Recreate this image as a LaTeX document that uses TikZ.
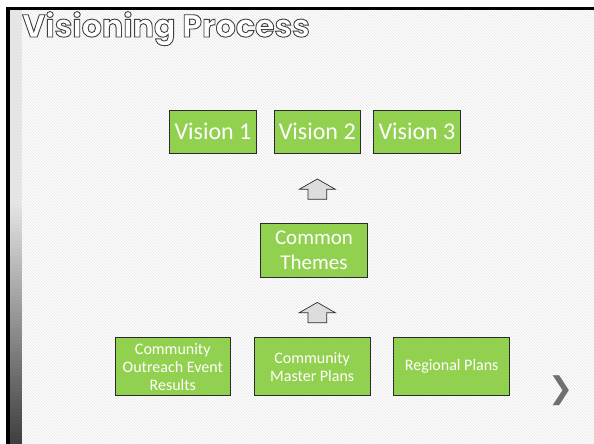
\documentclass[tikz,border=0pt]{standalone}
\usepackage{fontspec}
\setmainfont{Carlito}
\newfontfamily\titlefont{Poppins}
\newfontfamily\symfont{DejaVu Sans}
\usetikzlibrary{patterns}
\definecolor{boxgreen}{HTML}{92D050}
\definecolor{boxedge}{HTML}{2B2B2B}
\definecolor{arrowfill}{HTML}{DDDDDD}
\definecolor{chev}{HTML}{707070}
\begin{document}
\begin{tikzpicture}[x=1pt,y=-1pt,
  box/.style={draw=boxedge, line width=0.9pt, fill=boxgreen, text=white, inner sep=0pt, align=center},
  bigbox/.style={box, font=\fontsize{24}{28}\selectfont, minimum height=43.3pt},
  midbox/.style={box, font=\fontsize{21}{25}\selectfont, minimum height=54pt, minimum width=106.7pt},
  smallbox/.style={box, font=\fontsize{16}{18}\selectfont, minimum height=58pt, minimum width=115.7pt},
  blockarrow/.style={draw=boxedge, line width=0.7pt, fill=arrowfill, line join=miter},
  pics/uparrow/.style={code={
    \draw[blockarrow] (-18,0) -- (0,-10.3) -- (18,0) -- (9.35,0) -- (9.35,10) -- (-9.35,10) -- (-9.35,0) -- cycle;
  }}
]
\useasboundingbox (0,0) rectangle (594,444);
\fill[white] (0,0) rectangle (594,444);
% background hatching
\fill[pattern=north west lines, pattern color=black!10] (22,10) rectangle (594,444);
% left gradient strip
\fill[black!10] (9,10) rectangle (22,200);
\foreach \i in {0,...,60}{
  \pgfmathsetmacro{\shadeval}{10+65*\i/60}
  \fill[black!\shadeval] (9,{200+4*\i}) rectangle (22,{204.5+4*\i});
}
% frame lines
\fill[black] (6,7) rectangle (9.5,444);
\fill[black] (6,7) rectangle (594,10.5);

% title
\node[anchor=base west, inner sep=0pt, text=white] (title) at (22,37)
  {\titlefont\bfseries\fontsize{31.7}{36}\selectfont\special{pdf:literal direct 0.25 0.25 0.25 RG 0.9 w 2 Tr}Visioning Process\special{pdf:literal direct 0 Tr}};

% top row
\node[bigbox, minimum width=87.4pt] (v1) at (213,131.7) {Vision 1};
\node[bigbox, minimum width=86.7pt] (v2) at (317.3,131.7) {Vision 2};
\node[bigbox, minimum width=87.4pt] (v3) at (417,131.7) {Vision 3};

% middle
\node[midbox] (common) at (314,250.3) {Common\\Themes};

% bottom row
\node[smallbox] (a) at (172.8,366.7) {Community\\Outreach Event\\Results};
\node[smallbox] (b) at (312.2,366.7) {Community\\Master Plans};
\node[smallbox, minimum width=116pt] (c) at (451.7,366.7) {Regional Plans};

% block arrows
\pic at (317.3,189.3) {uparrow};
\pic at (317.3,312.7) {uparrow};

% next chevron
\node[inner sep=0pt, text=chev, font=\symfont\fontsize{30}{30}\selectfont] (next) at (561,390.5) {❯};
\end{tikzpicture}
\end{document}
